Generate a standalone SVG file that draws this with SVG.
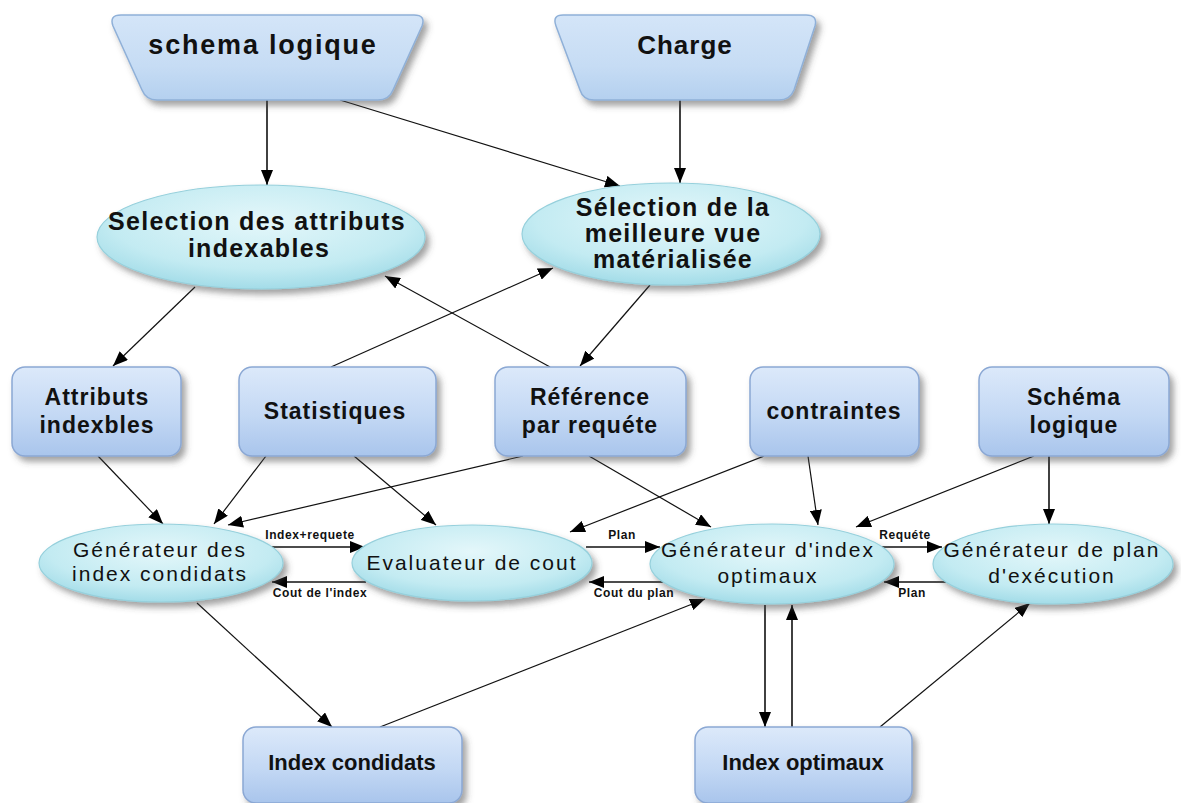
<svg xmlns="http://www.w3.org/2000/svg" width="1181" height="803" viewBox="0 0 1181 803">
  <defs>
    <linearGradient id="gBox" x1="0" y1="0" x2="0" y2="1">
      <stop offset="0" stop-color="#dce9fa"/>
      <stop offset="0.55" stop-color="#c3d8f4"/>
      <stop offset="1" stop-color="#a9c5ec"/>
    </linearGradient>
    <linearGradient id="gTrap" x1="0" y1="0" x2="0" y2="1">
      <stop offset="0" stop-color="#d4e5f8"/>
      <stop offset="0.6" stop-color="#c6dcf4"/>
      <stop offset="1" stop-color="#b4d0ef"/>
    </linearGradient>
    <radialGradient id="gEll" cx="0.5" cy="0.35" r="0.65">
      <stop offset="0" stop-color="#e4f7fa"/>
      <stop offset="0.7" stop-color="#c3ebf2"/>
      <stop offset="1" stop-color="#a3dce8"/>
    </radialGradient>
    <filter id="shadow" x="-10%" y="-10%" width="125%" height="135%">
      <feDropShadow dx="4" dy="5" stdDeviation="3" flood-color="#444" flood-opacity="0.5"/>
    </filter>
    <marker id="arrow" markerUnits="userSpaceOnUse" markerWidth="16" markerHeight="12" refX="15" refY="6" orient="auto">
      <path d="M0,0 L15,6 L0,12 Z" fill="#000"/>
    </marker>
    <style>
      .box { fill: url(#gBox); stroke: #8ba8d4; stroke-width: 1.5; filter: url(#shadow); }
      .trap { fill: url(#gTrap); stroke: #8fb0d8; stroke-width: 1.5; filter: url(#shadow); }
      .ell { fill: url(#gEll); stroke: #96d0dc; stroke-width: 1.2; filter: url(#shadow); }
      .tBox { font-family: "Liberation Sans", Arial, sans-serif; font-weight: bold; font-size: 23px; letter-spacing: 1px; fill: #111; text-anchor: middle; }
      .tTop { font-family: "Liberation Sans", Arial, sans-serif; font-weight: bold; font-size: 25px; letter-spacing: 1.3px; fill: #111; text-anchor: middle; }
      .tEll { font-family: "Liberation Sans", Arial, sans-serif; font-size: 21px; letter-spacing: 2px; fill: #111; text-anchor: middle; }
      .tLbl { font-family: "Liberation Sans", Arial, sans-serif; font-weight: bold; font-size: 12px; letter-spacing: 0.6px; fill: #111; text-anchor: middle; }
      .tBot { font-family: "Liberation Sans", Arial, sans-serif; font-weight: bold; font-size: 22px; fill: #111; text-anchor: middle; }
      .edge { stroke: #111; stroke-width: 1.2; fill: none; marker-end: url(#arrow); }
      .edgeV { stroke: #111; stroke-width: 1.6; fill: none; marker-end: url(#arrow); }
    </style>
  </defs>

  <rect width="1181" height="803" fill="#fff"/>

  <!-- connectors -->
  <g id="connectors">
    <line class="edgeV" x1="267" y1="100" x2="267" y2="185"/>
    <line class="edge" x1="340" y1="100" x2="620" y2="186"/>
    <line class="edgeV" x1="680" y1="100" x2="680" y2="183"/>
    <line class="edge" x1="195" y1="287" x2="113" y2="366"/>
    <line class="edge" x1="331" y1="367" x2="553" y2="268"/>
    <line class="edge" x1="550" y1="367" x2="385" y2="276"/>
    <line class="edge" x1="650" y1="285" x2="580" y2="366"/>
    <line class="edge" x1="98" y1="456" x2="163" y2="524"/>
    <line class="edge" x1="266" y1="456" x2="214" y2="524"/>
    <line class="edge" x1="354" y1="456" x2="436" y2="525"/>
    <line class="edge" x1="523" y1="456" x2="228" y2="525"/>
    <line class="edge" x1="589" y1="456" x2="711" y2="527"/>
    <line class="edge" x1="764" y1="456" x2="570" y2="532"/>
    <line class="edge" x1="808" y1="456" x2="818" y2="525"/>
    <line class="edge" x1="1034" y1="456" x2="856" y2="527"/>
    <line class="edgeV" x1="1049" y1="456" x2="1049" y2="524"/>
    <!-- paired horizontal exchanges between the generators -->
    <line class="edgeV" x1="268" y1="547" x2="365" y2="547"/>
    <line class="edgeV" x1="366" y1="582" x2="272" y2="582"/>
    <line class="edgeV" x1="586" y1="547" x2="660" y2="547"/>
    <line class="edgeV" x1="664" y1="582" x2="589" y2="582"/>
    <line class="edgeV" x1="882" y1="547" x2="942" y2="547"/>
    <line class="edgeV" x1="946" y1="582" x2="884" y2="582"/>
    <!-- lower links -->
    <line class="edge" x1="197" y1="603" x2="332" y2="727"/>
    <line class="edge" x1="380" y1="727" x2="705" y2="599"/>
    <line class="edgeV" x1="765" y1="605" x2="765" y2="727"/>
    <line class="edgeV" x1="792" y1="727" x2="792" y2="605"/>
    <line class="edge" x1="880" y1="727" x2="1030" y2="603"/>

    <text class="tLbl" x="310" y="539">Index+requete</text>
    <text class="tLbl" x="320" y="597">Cout de l'index</text>
    <text class="tLbl" x="622" y="539">Plan</text>
    <text class="tLbl" x="634" y="597">Cout du plan</text>
    <text class="tLbl" x="905" y="539">Requéte</text>
    <text class="tLbl" x="912" y="597">Plan</text>
  </g>

  <!-- sources -->
  <g id="schema-logique-src">
    <path class="trap" d="M121,15 H414 Q426,15 422,26 L393,90 Q389,100 378,100 H157 Q146,100 142,90 L113,26 Q109,15 121,15 Z"/>
    <text class="tTop" x="263" y="54" style="font-size:27px;letter-spacing:1.8px">schema logique</text>
  </g>
  <g id="charge">
    <path class="trap" d="M563,15 H806 Q818,15 815,26 L794,90 Q790,100 779,100 H594 Q583,100 580,90 L556,26 Q552,15 563,15 Z"/>
    <text class="tTop" x="685" y="54" style="font-size:26px;letter-spacing:1px">Charge</text>
  </g>

  <!-- selection steps -->
  <g id="selection-attributs">
    <ellipse class="ell" cx="261" cy="237" rx="164" ry="52"/>
    <text class="tTop" x="257" y="230">Selection des attributs</text>
    <text class="tTop" x="259" y="257">indexables</text>
  </g>
  <g id="selection-vue">
    <ellipse class="ell" cx="671" cy="234" rx="149" ry="51"/>
    <text class="tTop" x="673" y="216">Sélection de la</text>
    <text class="tTop" x="673" y="242">meilleure vue</text>
    <text class="tTop" x="673" y="268">matérialisée</text>
  </g>

  <!-- inputs row -->
  <g id="attributs-indexbles">
    <rect class="box" x="12" y="367" width="169" height="89" rx="13"/>
    <text class="tBox" x="97" y="405">Attributs</text>
    <text class="tBox" x="97" y="433">indexbles</text>
  </g>
  <g id="statistiques">
    <rect class="box" x="239" y="367" width="197" height="89" rx="13"/>
    <text class="tBox" x="335" y="419">Statistiques</text>
  </g>
  <g id="reference-requete">
    <rect class="box" x="495" y="367" width="191" height="89" rx="13"/>
    <text class="tBox" x="590" y="405">Référence</text>
    <text class="tBox" x="590" y="433">par requéte</text>
  </g>
  <g id="contraintes">
    <rect class="box" x="750" y="367" width="169" height="89" rx="13"/>
    <text class="tBox" x="834" y="419">contraintes</text>
  </g>
  <g id="schema-logique">
    <rect class="box" x="979" y="367" width="190" height="89" rx="13"/>
    <text class="tBox" x="1074" y="405">Schéma</text>
    <text class="tBox" x="1074" y="433">logique</text>
  </g>

  <!-- processing row -->
  <g id="generateur-candidats">
    <ellipse class="ell" cx="161" cy="563" rx="122" ry="39"/>
    <text class="tEll" x="160" y="557">Générateur des</text>
    <text class="tEll" x="160" y="581">index condidats</text>
  </g>
  <g id="evaluateur-cout">
    <ellipse class="ell" cx="472" cy="563" rx="120" ry="38"/>
    <text class="tEll" x="472" y="570">Evaluateur de cout</text>
  </g>
  <g id="generateur-optimaux">
    <ellipse class="ell" cx="772" cy="564" rx="122" ry="40"/>
    <text class="tEll" x="768" y="557">Générateur d'index</text>
    <text class="tEll" x="768" y="583">optimaux</text>
  </g>
  <g id="generateur-plan">
    <ellipse class="ell" cx="1053" cy="564" rx="120" ry="40"/>
    <text class="tEll" x="1052" y="557">Générateur de plan</text>
    <text class="tEll" x="1052" y="583">d'exécution</text>
  </g>

  <!-- results -->
  <g id="index-condidats">
    <rect class="box" x="243" y="727" width="219" height="76" rx="13"/>
    <text class="tBot" x="352" y="770">Index condidats</text>
  </g>
  <g id="index-optimaux">
    <rect class="box" x="695" y="727" width="217" height="76" rx="13"/>
    <text class="tBot" x="803" y="770">Index optimaux</text>
  </g>
</svg>
